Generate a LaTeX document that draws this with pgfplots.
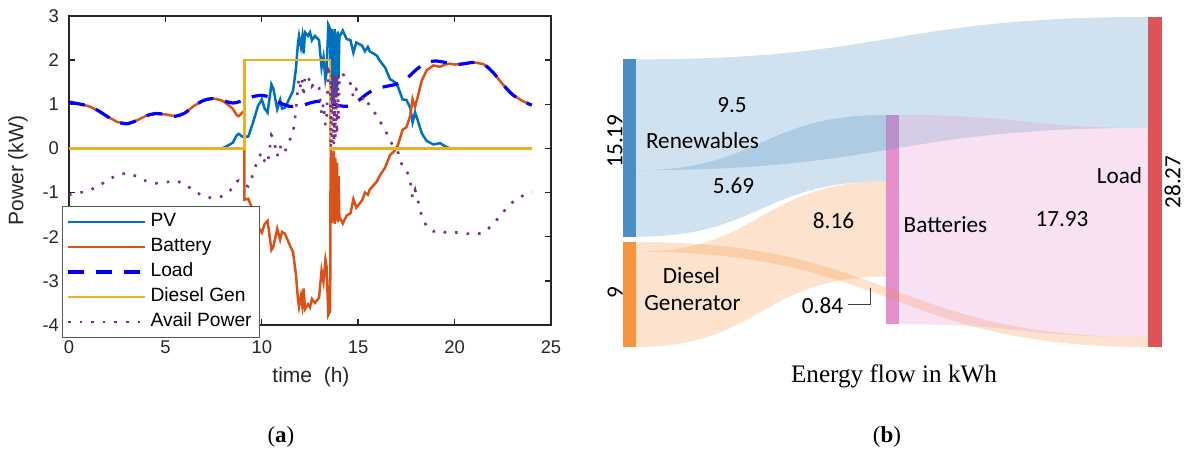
\documentclass[border=0pt]{standalone}
\usepackage{fontspec}
\setmainfont{Liberation Sans}
\newfontfamily\calfont{Carlito}
\newfontfamily\serifont{Liberation Serif}
\usepackage{pgfplots}
\pgfplotsset{compat=1.18}
\definecolor{mPV}{rgb}{0,0.447,0.741}
\definecolor{mBat}{rgb}{0.85,0.325,0.098}
\definecolor{mDie}{rgb}{0.929,0.694,0.125}
\definecolor{mAv}{rgb}{0.494,0.184,0.556}
\definecolor{sR}{HTML}{4A8FC4}
\definecolor{sD}{HTML}{F7923D}
\definecolor{sB}{HTML}{E38FCB}
\definecolor{sL}{HTML}{DE5358}
\begin{document}
\begin{tikzpicture}
\useasboundingbox (0,0) rectangle (592pt,229.5pt);
% ---------------- (a) line chart ----------------
\begin{axis}[
  at={(34.5pt,67pt)}, anchor=south west, scale only axis,
  width=241pt, height=154.5pt,
  xmin=0, xmax=25, ymin=-4, ymax=3,
  xtick={0,5,...,25}, ytick={-4,-3,...,3},
  tick align=inside, major tick length=3pt, tick pos=both,
  axis line style={draw=black!85, line width=0.7pt},
  tick style={draw=black!85, line width=0.7pt},
  ticklabel style={font=\fontsize{9.2}{10}\selectfont, text=black!85},
  xticklabel style={yshift=-4.5pt},
  yticklabel style={xshift=-1.5pt},
  /pgf/number format/assume math mode=true,
  xlabel={time\ \ (h)}, ylabel={Power (kW)},
  label style={font=\fontsize{10.5}{12}\selectfont, text=black!85},
  xlabel style={at={(axis description cs:0.502,-0.168)}, anchor=center},
  ylabel style={at={(axis description cs:-0.106,0.5)}, anchor=center},
  legend cell align=left,
  legend image code/.code={\draw[#1] (0pt,0pt) -- (38.5pt,0pt);},
  legend style={at={(axis description cs:-0.0145,-0.042)}, anchor=south west,
    draw=black!65, fill=white, font=\fontsize{9.6}{10}\selectfont,
    inner xsep=2pt, inner ysep=3.5pt, row sep=4pt,
    nodes={inner xsep=2pt, inner ysep=0pt, text height=6.5pt, text depth=2pt, text=black}},
]
\addplot[mPV, line width=1.25pt] table {
t p
0 0
7.9 0
8.1 0.03
8.3 0.08
8.5 0.13
8.7 0.30
8.8 0.33
8.9 0.30
9.0 0.26
9.3 0.27
9.55 0.59
9.8 0.96
10.0 1.11
10.15 0.90
10.3 0.81
10.5 1.45
10.6 1.35
10.8 0.89
10.95 1.10
11.05 0.90
11.2 0.92
11.46 1.16
11.62 1.30
11.77 1.80
11.88 2.40
11.93 2.55
12.03 2.30
12.1 2.52
12.17 2.15
12.24 2.63
12.4 2.55
12.5 2.63
12.6 2.45
12.76 2.55
12.97 2.45
13.1 1.83
13.2 2.07
13.3 1.57
13.36 1.72
13.45 2.80
13.55 2.70
13.58 1.00
13.62 2.70
13.66 1.10
13.70 2.65
13.74 1.05
13.78 2.70
13.82 1.20
13.86 2.60
13.90 1.30
13.94 2.65
13.98 1.60
14.02 2.50
14.05 2.55
14.2 2.67
14.4 2.48
14.6 2.45
14.75 2.17
14.9 2.40
15.2 2.33
15.35 2.20
15.5 2.30
15.6 2.20
15.97 2.10
16.1 2.00
16.4 1.83
16.65 1.57
16.9 1.50
17.07 1.39
17.3 1.11
17.5 1.10
17.7 0.92
17.82 0.59
17.95 0.82
18.1 0.62
18.3 0.34
18.55 0.17
18.9 0.09
19.25 0.12
19.5 0.05
19.76 0
24 0
};
\addlegendentry{PV}
\addplot[mBat, line width=1.25pt] table {
t b
0 1.05
0.5 1.01
1 0.96
1.5 0.86
2 0.72
2.5 0.60
3 0.56
3.5 0.63
4 0.74
4.5 0.79
5 0.77
5.5 0.73
6 0.80
6.5 0.97
7 1.09
7.5 1.13
7.9 1.09
8.1 1.04
8.3 0.97
8.5 0.90
8.7 0.75
8.8 0.73
8.9 0.77
9.0 0.82
9.1 0.84
9.101 -1.16
9.3 -1.14
9.55 -1.42
9.8 -1.77
10.0 -1.91
10.15 -1.71
10.3 -1.64
10.5 -2.30
10.6 -2.23
10.8 -1.82
10.95 -2.07
11.05 -1.89
11.2 -1.93
11.46 -2.20
11.62 -2.35
11.77 -2.85
11.88 -3.44
11.93 -3.59
12.03 -3.34
12.1 -3.55
12.17 -3.17
12.24 -3.64
12.4 -3.53
12.5 -3.60
12.6 -3.41
12.76 -3.50
12.97 -3.38
13.1 -2.77
13.2 -3.02
13.3 -2.52
13.36 -2.68
13.45 -3.77
13.55 -3.68
13.551 -1.68
13.58 0.01
13.62 -1.69
13.66 -0.09
13.70 -1.65
13.74 -0.05
13.78 -1.71
13.82 -0.21
13.86 -1.62
13.90 -0.32
13.94 -1.67
13.98 -0.63
14.02 -1.53
14.05 -1.58
14.2 -1.70
14.4 -1.52
14.6 -1.47
14.75 -1.15
14.9 -1.34
15.2 -1.18
15.35 -1.00
15.5 -1.05
15.6 -0.93
15.97 -0.75
16.1 -0.63
16.4 -0.43
16.65 -0.15
16.9 -0.05
17.07 0.09
17.3 0.42
17.5 0.48
17.7 0.74
17.82 1.12
17.95 0.94
18.1 1.19
18.3 1.54
18.55 1.77
18.9 1.88
19.25 1.85
19.5 1.90
19.76 1.92
20 1.90
20.5 1.92
21 1.95
21.5 1.91
22 1.72
22.5 1.45
23 1.22
23.5 1.08
24 0.98
};
\addlegendentry{Battery}
\addplot[blue, line width=1.6pt, dash pattern=on 8pt off 6pt, smooth] table {
t l
0 1.05
0.5 1.01
1 0.96
1.5 0.86
2 0.72
2.5 0.60
3 0.56
3.5 0.63
4 0.74
4.5 0.79
5 0.77
5.5 0.73
6 0.80
6.5 0.97
7 1.09
7.5 1.13
8 1.08
8.5 1.03
9 1.08
9.5 1.17
10 1.20
10.5 1.15
11 1.02
11.5 0.95
12 0.96
12.5 1.03
13 1.07
13.5 1.03
14 0.97
14.5 0.96
15 1.08
15.5 1.25
16 1.36
16.5 1.41
17 1.46
17.5 1.58
18 1.78
18.5 1.94
19 1.98
19.5 1.95
20 1.90
20.5 1.92
21 1.95
21.5 1.91
22 1.72
22.5 1.45
23 1.22
23.5 1.08
24 0.98
};
\addlegendentry{Load}
\addplot[mDie, line width=1.25pt] table {
t d
0 0
9.1 0
9.1 2
13.55 2
13.55 0
24 0
};
\addlegendentry{Diesel Gen}
\addplot[mAv, line width=1.3pt, dash pattern=on 1.3pt off 4.5pt] table {
t a
0 -1.05
0.5 -1.01
1 -0.96
1.5 -0.86
2 -0.72
2.5 -0.60
3 -0.56
3.5 -0.63
4 -0.74
4.5 -0.79
5 -0.77
5.5 -0.73
6 -0.80
6.5 -0.97
7 -1.09
7.5 -1.13
7.9 -1.09
8.1 -1.04
8.3 -0.97
8.5 -0.90
8.7 -0.75
8.8 -0.73
8.9 -0.77
9.0 -0.82
9.3 -0.86
9.55 -0.58
9.8 -0.23
10.0 -0.09
10.15 -0.29
10.3 -0.36
10.5 0.30
10.6 0.23
10.8 -0.18
10.95 0.07
11.05 -0.11
11.2 -0.07
11.46 0.20
11.62 0.35
11.77 0.85
11.88 1.44
11.93 1.59
12.03 1.34
12.1 1.55
12.17 1.17
12.24 1.64
12.4 1.53
12.5 1.60
12.6 1.41
12.76 1.50
12.97 1.38
13.1 0.77
13.2 1.02
13.3 0.52
13.36 0.68
13.45 1.77
13.55 1.68
13.58 -0.01
13.62 1.69
13.66 0.09
13.70 1.65
13.74 0.05
13.78 1.71
13.82 0.21
13.86 1.62
13.90 0.32
13.94 1.67
13.98 0.63
14.02 1.53
14.05 1.58
14.2 1.70
14.4 1.52
14.6 1.47
14.75 1.15
14.9 1.34
15.2 1.18
15.35 1.00
15.5 1.05
15.6 0.93
15.97 0.75
16.1 0.63
16.4 0.43
16.65 0.15
16.9 0.05
17.07 -0.09
17.3 -0.42
17.5 -0.48
17.7 -0.74
17.82 -1.12
17.95 -0.94
18.1 -1.19
18.3 -1.54
18.55 -1.77
18.9 -1.88
19.25 -1.85
19.5 -1.90
19.76 -1.92
20 -1.90
20.5 -1.92
21 -1.95
21.5 -1.91
22 -1.72
22.5 -1.45
23 -1.22
23.5 -1.08
24 -0.98
};
\addlegendentry{Avail Power}
\end{axis}
% ---------------- (b) Sankey ----------------
\begin{axis}[
  at={(300pt,0pt)}, anchor=south west, scale only axis,
  width=292pt, height=229.5pt,
  xmin=600, xmax=1184, ymin=-9.595, ymax=29.727,
  hide axis, clip=false,
]
% nodes (bars)
\addplot[fill=sR, draw=none] coordinates {(623,9.45) (636,9.45) (636,24.64) (623,24.64)} -- cycle;
\addplot[fill=sD, draw=none] coordinates {(623,0) (636,0) (636,9.0) (623,9.0)} -- cycle;
\addplot[fill=sB, draw=none] coordinates {(886,1.95) (899,1.95) (899,19.88) (886,19.88)} -- cycle;
\addplot[fill=sL, draw=none] coordinates {(1148,0) (1162,0) (1162,28.27) (1148,28.27)} -- cycle;
% flows
\fill[sR, fill opacity=0.26] (636,15.14) .. controls (892,15.14) and (892,18.77) .. (1148,18.77)
  -- (1148,28.27) .. controls (892,28.27) and (892,24.64) .. (636,24.64) -- cycle;
\fill[sR, fill opacity=0.26] (636,9.45) .. controls (761,9.45) and (761,14.19) .. (886,14.19)
  -- (886,19.88) .. controls (761,19.88) and (761,15.14) .. (636,15.14) -- cycle;
\fill[sD, fill opacity=0.26] (636,0) .. controls (761,0) and (761,6.03) .. (886,6.03)
  -- (886,14.19) .. controls (761,14.19) and (761,8.16) .. (636,8.16) -- cycle;
\fill[sD, fill opacity=0.26] (636,8.16) .. controls (892,8.16) and (892,0) .. (1148,0)
  -- (1148,0.84) .. controls (892,0.84) and (892,9.0) .. (636,9.0) -- cycle;
\fill[sB, fill opacity=0.26] (899,1.95) .. controls (1023.5,1.95) and (1023.5,0.84) .. (1148,0.84)
  -- (1148,18.77) .. controls (1023.5,18.77) and (1023.5,19.88) .. (899,19.88) -- cycle;
% leader line for 0.84
\draw[black!75, line width=0.4pt] (848,3.68) -- (870,3.68) -- (870,5.05);
% labels
\begin{scope}[every node/.style={font=\calfont\fontsize{11.6}{13}\selectfont, text=black}]
\node[rotate=90] at (615,17.65) {15.19};
\node[rotate=90] at (615,4.63) {9};
\node[rotate=90, inner sep=0pt] at (1172.5,14.13) {28.27};
\node at (732,20.73) {9.5};
\node at (702.5,17.73) {Renewables};
\node at (733.5,13.84) {5.69};
\node at (833.5,10.79) {8.16};
\node at (691.5,6.13) {Diesel};
\node at (692.5,3.73) {Generator};
\node at (822.5,3.56) {0.84};
\node at (945.5,10.45) {Batteries};
\node at (1062,10.97) {17.93};
\node at (1119.5,14.73) {Load};
\end{scope}
\node[font=\serifont\fontsize{12.6}{14}\selectfont] at (894,-2.48) {Energy flow in kWh};
\node[font=\serifont\fontsize{11.5}{13}\selectfont] at (887,-7.71) {(\textbf{b})};
\node[font=\serifont\fontsize{11.5}{13}\selectfont] at (281,-7.71) {(\textbf{a})};
\end{axis}
\end{tikzpicture}
\end{document}
